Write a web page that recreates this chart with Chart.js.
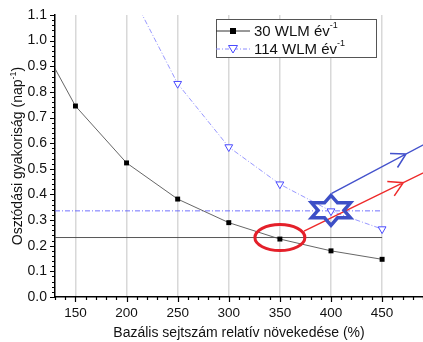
<!DOCTYPE html>
<html>
<head>
<meta charset="utf-8">
<script src="https://cdn.jsdelivr.net/npm/chart.js@4.4.1/dist/chart.umd.min.js"></script>
<style>
  body { margin: 0; background: #fff; }
  canvas { display: block; }
</style>
</head>
<body>
<canvas id="chart" width="423" height="342"></canvas>
<script>
// series
const xRel30 = [100, 150, 200, 250, 300, 350, 400, 450];
const freq30 = [1.11, 0.745, 0.523, 0.382, 0.29, 0.226, 0.18, 0.147];
const xRel114 = [200, 250, 300, 350, 400, 450];
const freq114 = [1.22, 0.832, 0.585, 0.44, 0.335, 0.265];

// horizontal guide lines
const guide30 = 0.232;
const guide114 = 0.336;
const guideSpan = [130, 450];

// annotation anchors (data units)
const ellipseAt = [350, 0.232];
const starAt = [400, 0.338];
const redArrow = [[373.6, 0.257], [470.7, 0.446], [500, 0.503]];
const blueArrow = [[400.7, 0.404], [473.4, 0.558], [500, 0.614]];

const labels = ['30 WLM év', '114 WLM év'];
const xTitle = 'Bazális sejtszám relatív növekedése (%)';
const yTitle = 'Osztódási gyakoriság (nap';

const FONT = "'Liberation Sans', Arial, sans-serif";

function pts(xs, ys) {
    return xs.map((x, i) => ({ x: x, y: ys[i] }));
}

function isMajorX(v) { return Math.round(v) % 50 === 0; }
function isMajorY(v) { return Math.round(v * 50) % 5 === 0; }

// text with a "-1" superscript
function supText(c, x, y, main, tail, size) {
    c.font = size + 'px ' + FONT;
    c.fillText(main, x, y);
    let w = c.measureText(main).width;
    c.font = Math.round(size * 0.62) + 'px ' + FONT;
    c.fillText('-1', x + w, y - size * 0.4);
    w += c.measureText('-1').width;
    if (tail) {
        c.font = size + 'px ' + FONT;
        c.fillText(tail, x + w, y);
    }
}

function supWidth(c, main, tail, size) {
    c.font = size + 'px ' + FONT;
    let w = c.measureText(main).width + (tail ? c.measureText(tail).width : 0);
    c.font = Math.round(size * 0.62) + 'px ' + FONT;
    return w + c.measureText('-1').width;
}

function arrow(c, xs, ys, seg, color) {
    const p0 = [xs.getPixelForValue(seg[0][0]), ys.getPixelForValue(seg[0][1])];
    const ph = [xs.getPixelForValue(seg[1][0]), ys.getPixelForValue(seg[1][1])];
    const p1 = [xs.getPixelForValue(seg[2][0]), ys.getPixelForValue(seg[2][1])];
    c.strokeStyle = color;
    c.lineWidth = 1.5;
    c.beginPath();
    c.moveTo(p0[0], p0[1]);
    c.lineTo(p1[0], p1[1]);
    const a = Math.atan2(ph[1] - p0[1], ph[0] - p0[0]);
    const len = 16;
    c.moveTo(ph[0] - len * Math.cos(a - 0.52), ph[1] - len * Math.sin(a - 0.52));
    c.lineTo(ph[0], ph[1]);
    c.lineTo(ph[0] - len * Math.cos(a + 0.52), ph[1] - len * Math.sin(a + 0.52));
    c.stroke();
}

const decor = {
    id: 'decor',
    afterDraw(chart) {
        const c = chart.ctx;
        const xs = chart.scales.x, ys = chart.scales.y;
        const area = chart.chartArea;
        c.save();

        // tick marks, long for majors
        c.strokeStyle = '#000';
        c.lineWidth = 1.2;
        c.beginPath();
        xs.ticks.forEach(t => {
            const px = Math.round(xs.getPixelForValue(t.value)) + 0.5;
            const l = isMajorX(t.value) ? 5 : 3;
            c.moveTo(px, area.bottom);
            c.lineTo(px, area.bottom + l);
        });
        ys.ticks.forEach(t => {
            const py = Math.round(ys.getPixelForValue(t.value)) + 0.5;
            const l = isMajorY(t.value) ? 5 : 3;
            c.moveTo(area.left, py);
            c.lineTo(area.left - l, py);
        });
        c.stroke();

        // axis titles
        c.fillStyle = '#111';
        c.textBaseline = 'alphabetic';
        c.font = '14px ' + FONT;
        c.textAlign = 'center';
        c.fillText(xTitle, (area.left + area.right) / 2, 337);
        c.textAlign = 'left';
        c.save();
        c.translate(22, (area.top + area.bottom) / 2);
        c.rotate(-Math.PI / 2);
        const yw = supWidth(c, yTitle, ')', 14);
        supText(c, -yw / 2, 0, yTitle, ')', 14);
        c.restore();

        // annotations, clipped to the plot
        c.beginPath();
        c.rect(area.left, area.top, area.right - area.left, area.bottom - area.top);
        c.clip();

        arrow(c, xs, ys, redArrow, '#ee2a2a');
        arrow(c, xs, ys, blueArrow, '#4452cc');

        const ex = xs.getPixelForValue(ellipseAt[0]), ey = ys.getPixelForValue(ellipseAt[1]);
        c.strokeStyle = '#e4202a';
        c.lineWidth = 3;
        c.beginPath();
        c.ellipse(ex, ey, 25, 13, 0, 0, Math.PI * 2);
        c.stroke();

        const sx = xs.getPixelForValue(starAt[0]), sy = ys.getPixelForValue(starAt[1]);
        const ra = 22.5, rb = 15;
        c.strokeStyle = '#3d4fc6';
        c.lineWidth = 3.5;
        c.lineJoin = 'miter';
        c.beginPath();
        for (let k = 0; k < 12; k++) {
            const ang = (90 - k * 30) * Math.PI / 180;
            const r = k % 2 === 0 ? 1 : 1 / Math.sqrt(3);
            const px = sx + ra * r * Math.cos(ang), py = sy - rb * r * Math.sin(ang);
            if (k === 0) c.moveTo(px, py); else c.lineTo(px, py);
        }
        c.closePath();
        c.stroke();
        c.restore();

        // legend box
        c.save();
        const lx = 216, ly = 19, lw = 160, lh = 38;
        c.fillStyle = '#fff';
        c.fillRect(lx, ly, lw, lh);
        c.strokeStyle = '#555';
        c.lineWidth = 1;
        c.strokeRect(lx + 0.5, ly + 0.5, lw, lh);

        const r1 = ly + 12, r2 = ly + 30;
        c.strokeStyle = '#333';
        c.lineWidth = 1;
        c.beginPath();
        c.moveTo(lx, r1); c.lineTo(lx + 34, r1);
        c.stroke();
        c.fillStyle = '#000';
        c.fillRect(lx + 14, r1 - 3, 6, 6);

        c.strokeStyle = '#8c8cff';
        c.setLineDash([4, 2, 1, 2]);
        c.beginPath();
        c.moveTo(lx, r2); c.lineTo(lx + 34, r2);
        c.stroke();
        c.setLineDash([]);
        c.fillStyle = '#fff';
        c.strokeStyle = '#4a4aff';
        c.beginPath();
        c.moveTo(lx + 12.5, r2 - 3.5); c.lineTo(lx + 21.5, r2 - 3.5); c.lineTo(lx + 17, r2 + 4);
        c.closePath();
        c.fill(); c.stroke();

        c.fillStyle = '#111';
        c.textBaseline = 'middle';
        supText(c, lx + 38, r1 + 1, labels[0], '', 15);
        supText(c, lx + 38, r2 + 1, labels[1], '', 15);
        c.restore();
    }
};

const ctx = document.getElementById('chart').getContext('2d');
const chart = new Chart(ctx, {
    type: 'scatter',
    data: {
        datasets: [{
            label: labels[0],
            data: pts(xRel30, freq30),
            showLine: true,
            borderColor: '#555',
            borderWidth: 0.9,
            pointStyle: 'rect',
            pointRadius: 3.5,
            pointBackgroundColor: '#000',
            pointBorderColor: '#000',
            pointBorderWidth: 0
        }, {
            label: labels[1],
            data: pts(xRel114, freq114),
            showLine: true,
            borderColor: '#8c8cff',
            borderWidth: 0.9,
            borderDash: [5, 2, 1, 2],
            pointStyle: 'triangle',
            rotation: 180,
            pointRadius: 4.5,
            pointBackgroundColor: '#fff',
            pointBorderColor: '#4a4aff',
            pointBorderWidth: 1
        }, {
            data: pts(guideSpan, [guide30, guide30]),
            showLine: true,
            borderColor: '#444',
            borderWidth: 0.9,
            pointRadius: 0
        }, {
            data: pts(guideSpan, [guide114, guide114]),
            showLine: true,
            borderColor: '#6060ff',
            borderWidth: 0.9,
            borderDash: [5, 2, 1, 2],
            pointRadius: 0
        }]
    },
    options: {
        responsive: false,
        animation: false,
        devicePixelRatio: 1,
        layout: { autoPadding: false, padding: { top: 15, left: 0, right: 0, bottom: 0 } },
        plugins: { legend: { display: false }, tooltip: { enabled: false } },
        scales: {
            x: {
                type: 'linear',
                min: 130,
                max: 490,
                afterFit: s => { s.height = 45; s.paddingLeft = 0; s.paddingRight = 0; },
                border: { display: true, color: '#000', width: 1.5 },
                grid: {
                    drawTicks: false,
                    lineWidth: 1.5,
                    color: c => (c.tick && isMajorX(c.tick.value) && c.tick.value > 130) ? '#d8d8d8' : 'rgba(0,0,0,0)'
                },
                ticks: {
                    stepSize: 10,
                    autoSkip: false,
                    maxRotation: 0,
                    padding: 8,
                    color: '#111',
                    font: { family: FONT, size: 13.5 },
                    callback: v => isMajorX(v) ? String(v) : ''
                }
            },
            y: {
                min: 0,
                max: 1.1,
                afterFit: s => { s.width = 55; s.paddingTop = 0; s.paddingBottom = 0; },
                border: { display: true, color: '#000', width: 1.5 },
                grid: { drawTicks: false, color: 'rgba(0,0,0,0)' },
                ticks: {
                    stepSize: 0.02,
                    autoSkip: false,
                    padding: 8,
                    color: '#111',
                    font: { family: FONT, size: 14 },
                    callback: v => isMajorY(v) ? (Math.round(v * 10) / 10).toFixed(1) : ''
                }
            }
        }
    },
    plugins: [decor]
});
</script>
</body>
</html>
